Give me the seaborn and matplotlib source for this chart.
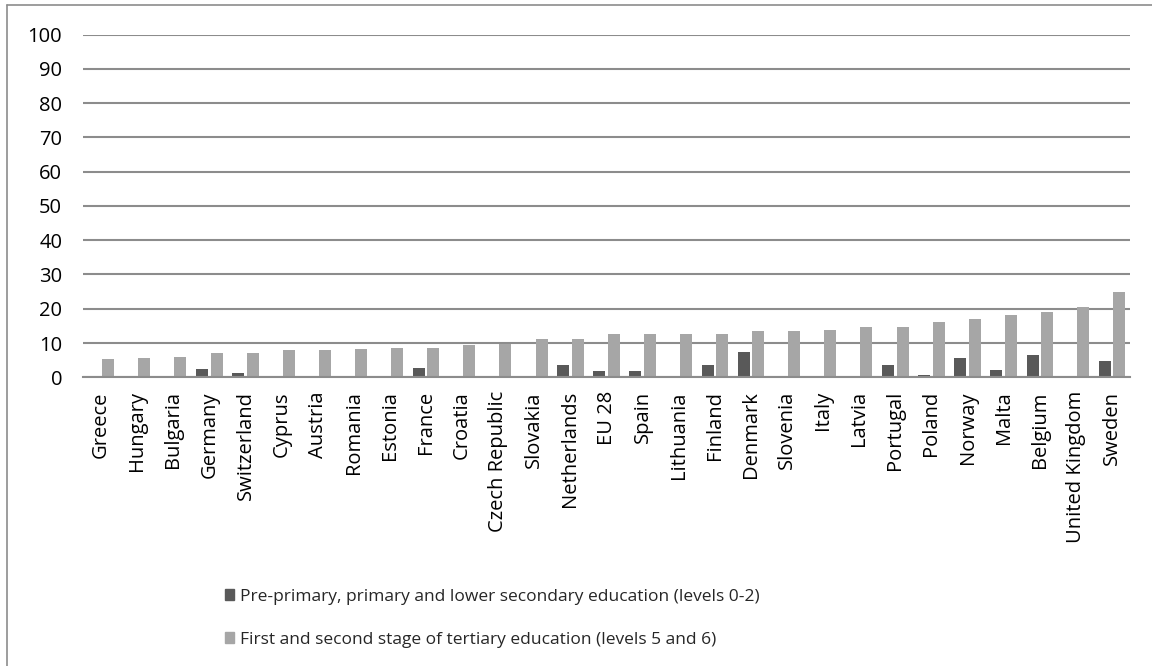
import matplotlib
matplotlib.use("Agg")
import matplotlib.pyplot as plt
import matplotlib.lines as mlines
import matplotlib.patches as mpatches
import seaborn as sns
import pandas as pd
import numpy as np

countries = ["Greece", "Hungary", "Bulgaria", "Germany", "Switzerland", "Cyprus", "Austria",
             "Romania", "Estonia", "France", "Croatia", "Czech Republic", "Slovakia",
             "Netherlands", "EU 28", "Spain", "Lithuania", "Finland", "Denmark", "Slovenia",
             "Italy", "Latvia", "Portugal", "Poland", "Norway", "Malta", "Belgium",
             "United Kingdom", "Sweden"]
low_edu = [0, 0, 0, 2.4, 1.2, 0, 0,
           0, 0, 2.6, 0, 0, 0,
           3.5, 1.9, 1.75, 0, 3.6, 7.5, 0,
           0.4, 0, 3.6, 0.7, 5.6, 2.05, 6.5,
           0, 4.7]
tertiary = [5.2, 5.5, 6.0, 7.1, 7.1, 7.9, 8.1,
            8.35, 8.45, 8.45, 9.5, 9.6, 11.1,
            11.2, 12.5, 12.5, 12.5, 12.6, 13.4, 13.5,
            13.7, 14.7, 14.8, 16.1, 17.0, 18.2, 19.1,
            20.6, 24.8]
series_names = ["Pre-primary, primary and lower secondary education (levels 0-2)",
                "First and second stage of tertiary education (levels 5 and 6)"]
yticks = [0, 10, 20, 30, 40, 50, 60, 70, 80, 90, 100]

df = pd.DataFrame({
    "country": countries * 2,
    "value": low_edu + tertiary,
    "series": [series_names[0]] * len(countries) + [series_names[1]] * len(countries),
})

sns.set_style("white")
plt.rcParams["font.family"] = ["Open Sans", "DejaVu Sans"]

dark = "#595959"
light = "#a6a6a6"
grid = "#8c8c8c"

fig = plt.figure(figsize=(11.52, 6.66), dpi=100)
ax = fig.add_axes([83 / 1152, 1 - 377.3 / 666, (1130 - 83) / 1152, (377.3 - 34.5) / 666])

sns.barplot(data=df, x="country", y="value", hue="series", order=countries,
            hue_order=series_names, palette=[dark, light], width=0.8, gap=0.17,
            saturation=1, ax=ax, legend=False, edgecolor="none")

ax.set_ylim(0, 100)
ax.set_xlim(-0.5, len(countries) - 0.5)
ax.set_yticks(yticks)
ax.yaxis.grid(True, color=grid, linewidth=1.5)
ax.set_axisbelow(True)
for s in ["left", "right", "top"]:
    ax.spines[s].set_visible(False)
ax.spines["bottom"].set_color(grid)
ax.spines["bottom"].set_linewidth(1.5)
ax.tick_params(axis="both", length=0, labelsize=14.5, colors="black")
ax.tick_params(axis="y", pad=15)
ax.tick_params(axis="x", pad=10)
plt.setp(ax.get_xticklabels(), rotation=90)
ax.set_xlabel("")
ax.set_ylabel("")

handles = [mpatches.Patch(color=dark), mpatches.Patch(color=light)]
fig.legend(handles, series_names, loc="upper left", bbox_to_anchor=(209 / 1152, 1 - 573 / 666),
           frameon=False, fontsize=12.5, handlelength=0.55, handleheight=0.55,
           handletextpad=0.35, labelspacing=1.55)

# chart border
fig.add_artist(mlines.Line2D([7 / 1152, 7 / 1152], [0, 1 - 5 / 666], color="#8c8c8c", lw=1.2,
                             transform=fig.transFigure))
fig.add_artist(mlines.Line2D([7 / 1152, 1], [1 - 5 / 666, 1 - 5 / 666], color="#8c8c8c", lw=1.2,
                             transform=fig.transFigure))

fig.savefig("out.png", dpi=100, facecolor="white")
